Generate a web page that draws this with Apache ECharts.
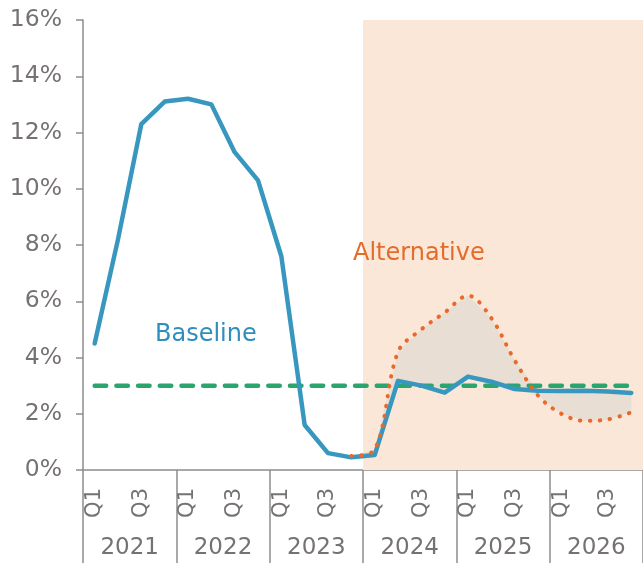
<!DOCTYPE html>
<html>
<head>
<meta charset="utf-8">
<script src="https://cdn.jsdelivr.net/npm/echarts@6/dist/echarts.min.js"></script>
<style>
  html, body { margin: 0; padding: 0; background: #ffffff; }
  #chart { width: 643px; height: 563px; }
</style>
</head>
<body>
<div id="chart"></div>
<script>
// Quarterly inflation path, 2021–2026 (percent)
const years = ['2021', '2022', '2023', '2024', '2025', '2026'];
const quarterNames = ['Q1', 'Q2', 'Q3', 'Q4'];
const yTicks = [0, 2, 4, 6, 8, 10, 12, 14, 16];

const baseline = [4.5, 8.2, 12.3, 13.1, 13.2, 13.0, 11.3, 10.3,
                  7.6, 1.6, 0.6, 0.45, 0.53, 3.17, 3.0, 2.75,
                  3.32, 3.14, 2.88, 2.82, 2.81, 2.82, 2.79, 2.74];
const alternative = [null, null, null, null, null, null, null, null,
                     null, null, null, 0.5, 0.72, 4.2, 5.0, 5.6,
                     6.2, 5.4, 3.9, 2.65, 2.0, 1.75, 1.8, 2.05];
const target = [3, 3, 3, 3, 3, 3, 3, 3, 3, 3, 3, 3,
                3, 3, 3, 3, 3, 3, 3, 3, 3, 3, 3, 3];
// Forecast window (quarter index range on the hidden value axis)
const forecastStart = 12;
const forecastEnd = 24;

const categories = [];
years.forEach(y => quarterNames.forEach(q => categories.push(y + ' ' + q)));

// Band between the two scenarios: lower edge plus stacked gap
const bandLower = baseline.map((b, i) => alternative[i] == null ? null : Math.min(b, alternative[i]));
const bandGap = baseline.map((b, i) => alternative[i] == null ? null : Math.abs(alternative[i] - b));

const grey = '#777272';
const axisGrey = '#8d8d8d';
const font = 'DejaVu Sans';

const chart = echarts.init(document.getElementById('chart'), null, { renderer: 'canvas' });

chart.setOption({
  animation: false,
  backgroundColor: '#ffffff',
  grid: { left: 83, right: 0, top: 20, bottom: 93, containLabel: false },
  xAxis: [
    {
      type: 'category',
      data: categories,
      position: 'bottom',
      boundaryGap: true,
      axisLine: { show: true, lineStyle: { color: axisGrey, width: 1.5 } },
      axisTick: { show: false },
      axisLabel: {
        interval: 1,
        rotate: 90,
        margin: 18,
        color: grey,
        fontFamily: font,
        fontSize: 21,
        formatter: v => v.split(' ')[1]
      },
      splitLine: { show: false }
    },
    {
      type: 'category',
      data: years,
      position: 'bottom',
      boundaryGap: true,
      axisLine: { show: false },
      axisTick: { show: true, length: 95, interval: 0, lineStyle: { color: axisGrey, width: 1.5 } },
      axisLabel: { margin: 67, color: grey, fontFamily: font, fontSize: 23 },
      splitLine: { show: false }
    },
    {
      type: 'value',
      min: 0,
      max: 24,
      show: false
    }
  ],
  yAxis: {
    type: 'value',
    min: yTicks[0],
    max: yTicks[yTicks.length - 1],
    interval: 2,
    axisLine: { show: true, lineStyle: { color: axisGrey, width: 1.5 } },
    axisTick: { show: true, length: 7, lineStyle: { color: axisGrey, width: 1.5 } },
    axisLabel: { margin: 21, color: grey, fontFamily: font, fontSize: 23.5, formatter: '{value}%' },
    splitLine: { show: false }
  },
  series: [
    {
      name: 'forecast',
      type: 'line',
      xAxisIndex: 2,
      data: [],
      silent: true,
      z: 0,
      markArea: {
        silent: true,
        itemStyle: { color: '#fbe7d7' },
        data: [[{ xAxis: forecastStart }, { xAxis: forecastEnd }]]
      }
    },
    {
      name: 'bandLower',
      type: 'line',
      data: bandLower,
      stack: 'band',
      symbol: 'none',
      silent: true,
      lineStyle: { opacity: 0 },
      z: 1
    },
    {
      name: 'bandGap',
      type: 'line',
      data: bandGap,
      stack: 'band',
      symbol: 'none',
      silent: true,
      lineStyle: { opacity: 0 },
      areaStyle: { color: '#e8ded3', opacity: 1 },
      z: 1
    },
    {
      name: 'Target',
      type: 'line',
      data: target,
      symbol: 'none',
      lineStyle: { color: '#2ba56d', width: 4.5, type: [11.5, 10.2], cap: 'round' },
      z: 2
    },
    {
      name: 'Baseline',
      type: 'line',
      data: baseline,
      symbol: 'none',
      lineStyle: { color: '#3897bf', width: 4.5, join: 'round', cap: 'round' },
      z: 3
    },
    {
      name: 'Alternative',
      type: 'line',
      data: alternative,
      symbol: 'none',
      smooth: 0.35,
      lineStyle: { color: '#e8692a', width: 4, type: [0.5, 9.5], cap: 'round' },
      z: 4
    }
  ],
  graphic: [
    {
      type: 'text',
      x: 155,
      y: 335,
      z: 100,
      style: {
        text: 'Baseline',
        fill: '#2e8fbf',
        font: '24px "DejaVu Sans"',
        textVerticalAlign: 'middle'
      }
    },
    {
      type: 'text',
      x: 353,
      y: 254,
      z: 100,
      style: {
        text: 'Alternative',
        fill: '#e46c2a',
        font: '24px "DejaVu Sans"',
        textVerticalAlign: 'middle'
      }
    }
  ]
});
</script>
</body>
</html>
